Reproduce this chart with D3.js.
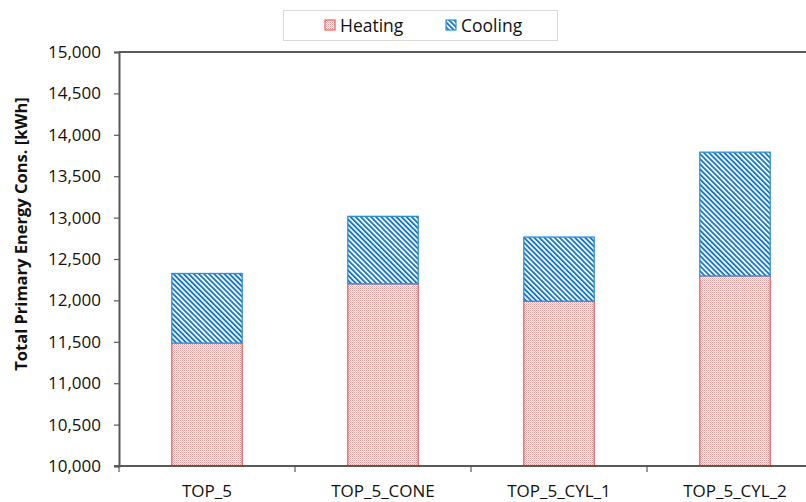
<!DOCTYPE html>
<html>
<head>
<meta charset="utf-8">
<script src="https://cdn.jsdelivr.net/npm/d3@7"></script>
<style>
  body { margin: 0; background: #fff; }
  svg { display: block; font-family: "Open Sans", sans-serif; }
</style>
</head>
<body>
<svg id="chart" width="806" height="502"></svg>
<script>
'use strict';

var categories = ["TOP_5", "TOP_5_CONE", "TOP_5_CYL_1", "TOP_5_CYL_2"];
var heating    = [11485, 12200, 11990, 12295];
var cooling    = [840, 815, 775, 1495];
var yTicks     = [10000, 10500, 11000, 11500, 12000, 12500, 13000, 13500, 14000, 14500, 15000];

var margin = {top: 52, left: 119, bottom: 466, right: 823},
    axisColor = "#595959";

var svg = d3.select("#chart");

// fill patterns
var defs = svg.append("defs");
var dots = defs.append("pattern")
    .attr("id", "heat").attr("patternUnits", "userSpaceOnUse")
    .attr("width", 2).attr("height", 2);
dots.append("rect").attr("width", 2).attr("height", 2).attr("fill", "#fff");
dots.append("rect").attr("width", 1).attr("height", 1).attr("fill", "#f49a9a");
dots.append("rect").attr("x", 1).attr("y", 1).attr("width", 1).attr("height", 1).attr("fill", "#f8c4c4");

var stripes = defs.append("pattern")
    .attr("id", "cool").attr("patternUnits", "userSpaceOnUse")
    .attr("width", 3.6).attr("height", 10)
    .attr("patternTransform", "rotate(-45)");
stripes.append("rect").attr("width", 3.6).attr("height", 10).attr("fill", "#fff");
stripes.append("rect").attr("width", 1.9).attr("height", 10).attr("fill", "#1a78cc");

var x = d3.scaleBand().domain(categories)
    .range([margin.left, margin.right])
    .paddingInner(0.6).paddingOuter(0.3);
var y = d3.scaleLinear().domain([10000, 15000]).range([margin.bottom, margin.top]);

// bars
var bars = svg.append("g");
categories.forEach(function(c, i) {
    var top = heating[i] + cooling[i];
    bars.append("rect")
        .attr("x", x(c)).attr("width", x.bandwidth())
        .attr("y", y(heating[i])).attr("height", y(10000) - y(heating[i]))
        .attr("fill", "url(#heat)").attr("stroke", "#f25c5c").attr("stroke-width", 1.3);
    bars.append("rect")
        .attr("x", x(c)).attr("width", x.bandwidth())
        .attr("y", y(top)).attr("height", y(heating[i]) - y(top))
        .attr("fill", "url(#cool)").attr("stroke", "#2b8fe0").attr("stroke-width", 1.3);
});

// frame
svg.append("line")
    .attr("x1", margin.left).attr("x2", 806)
    .attr("y1", margin.top).attr("y2", margin.top)
    .attr("stroke", axisColor).attr("stroke-width", 2);

// y axis
var yAxis = d3.axisLeft(y).tickValues(yTicks).tickSize(5).tickPadding(13)
    .tickFormat(d3.format(","));
var gy = svg.append("g").attr("transform", "translate(" + margin.left + ",0)").call(yAxis);
gy.select(".domain").attr("stroke", axisColor).attr("stroke-width", 2);
gy.selectAll(".tick line").attr("stroke", axisColor).attr("stroke-width", 1.2);
gy.selectAll(".tick text").attr("font-size", 17).attr("fill", "#111")
    .attr("font-family", "Open Sans, sans-serif");

// x axis
svg.append("line")
    .attr("x1", margin.left - 5).attr("x2", 806)
    .attr("y1", margin.bottom).attr("y2", margin.bottom)
    .attr("stroke", axisColor).attr("stroke-width", 2);
d3.range(categories.length + 1).forEach(function(i) {
    var tx = margin.left + i * x.step();
    svg.append("line")
        .attr("x1", tx).attr("x2", tx)
        .attr("y1", margin.bottom).attr("y2", margin.bottom + 6)
        .attr("stroke", axisColor).attr("stroke-width", 1.2);
});
svg.append("g").selectAll("text").data(categories).enter().append("text")
    .attr("x", function(d) { return x(d) + x.bandwidth() / 2; })
    .attr("y", 497)
    .attr("text-anchor", "middle")
    .attr("font-size", 17).attr("fill", "#111")
    .text(function(d) { return d; });

// y title
svg.append("text")
    .attr("transform", "translate(27,234) rotate(-90)")
    .attr("text-anchor", "middle")
    .attr("font-size", 16.5).attr("font-weight", "bold").attr("fill", "#111")
    .text("Total Primary Energy Cons. [kWh]");

// legend
var lg = svg.append("g");
lg.append("rect").attr("x", 283.5).attr("y", 10.5).attr("width", 274).attr("height", 30)
    .attr("fill", "#fff").attr("stroke", "#d9d9d9");
[["Heating", "url(#heat)", "#f25c5c", 325], ["Cooling", "url(#cool)", "#2b8fe0", 446]]
    .forEach(function(l) {
        lg.append("rect").attr("x", l[3]).attr("y", 20).attr("width", 10).attr("height", 10)
            .attr("fill", l[1]).attr("stroke", l[2]).attr("stroke-width", 1.2);
        lg.append("text").attr("x", l[3] + 15).attr("y", 32)
            .attr("font-size", 17.5).attr("fill", "#111").text(l[0]);
    });
</script>
</body>
</html>
